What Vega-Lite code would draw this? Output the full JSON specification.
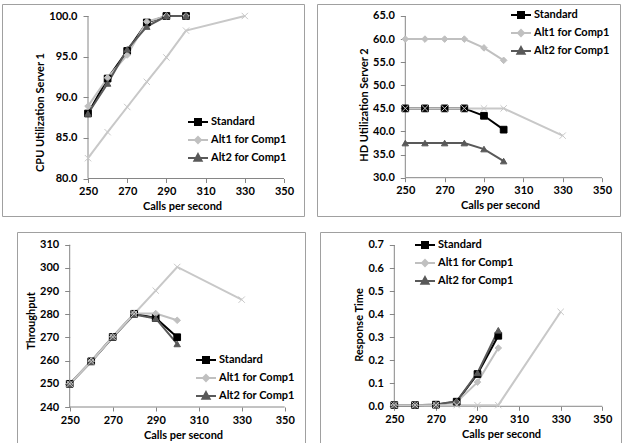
{
  "$schema": "https://vega.github.io/schema/vega-lite/v6.json",
  "background": "white",
  "padding": {"left": 1, "top": 3, "right": 0, "bottom": 0},
  "config": {
    "view": {"stroke": "#a0a0a0", "strokeWidth": 1},
    "font": "Lato",
    "axis": {"grid": false, "domain": false, "ticks": true, "tickColor": "#868686", "tickWidth": 1, "labelFont": "Lato", "labelFontWeight": "bold", "labelFontSize": 11, "labelColor": "#000000", "titleFont": "Lato", "titleFontWeight": "bold", "titleFontSize": 11, "titleColor": "#000000", "labelOverlap": false, "labelFlush": false},
    "legend": {"labelFont": "Lato", "labelFontWeight": "bold", "labelFontSize": 11, "labelColor": "#000000"}
  },
  "datasets": {
    "cpu": [
      {"calls": 250, "value": 88.0, "series": "Standard"}, {"calls": 260, "value": 92.3, "series": "Standard"}, {"calls": 270, "value": 95.7, "series": "Standard"}, {"calls": 280, "value": 99.2, "series": "Standard"}, {"calls": 290, "value": 100, "series": "Standard"}, {"calls": 300, "value": 100, "series": "Standard"},
      {"calls": 250, "value": 88.9, "series": "Alt1 for Comp1"}, {"calls": 260, "value": 92.4, "series": "Alt1 for Comp1"}, {"calls": 270, "value": 95.2, "series": "Alt1 for Comp1"}, {"calls": 280, "value": 99.3, "series": "Alt1 for Comp1"}, {"calls": 290, "value": 100, "series": "Alt1 for Comp1"}, {"calls": 300, "value": 100, "series": "Alt1 for Comp1"},
      {"calls": 250, "value": 88.0, "series": "Alt2 for Comp1"}, {"calls": 260, "value": 91.7, "series": "Alt2 for Comp1"}, {"calls": 270, "value": 95.9, "series": "Alt2 for Comp1"}, {"calls": 280, "value": 98.7, "series": "Alt2 for Comp1"}, {"calls": 290, "value": 100, "series": "Alt2 for Comp1"}, {"calls": 300, "value": 100, "series": "Alt2 for Comp1"},
      {"calls": 250, "value": 82.5, "series": "Alt3 for Comp1"}, {"calls": 260, "value": 85.7, "series": "Alt3 for Comp1"}, {"calls": 270, "value": 88.8, "series": "Alt3 for Comp1"}, {"calls": 280, "value": 91.9, "series": "Alt3 for Comp1"}, {"calls": 290, "value": 94.9, "series": "Alt3 for Comp1"}, {"calls": 300, "value": 98.2, "series": "Alt3 for Comp1"}, {"calls": 330, "value": 100, "series": "Alt3 for Comp1"}
    ],
    "hd": [
      {"calls": 250, "value": 45, "series": "Standard"}, {"calls": 260, "value": 45, "series": "Standard"}, {"calls": 270, "value": 45, "series": "Standard"}, {"calls": 280, "value": 45, "series": "Standard"}, {"calls": 290, "value": 43.4, "series": "Standard"}, {"calls": 300, "value": 40.4, "series": "Standard"},
      {"calls": 250, "value": 60, "series": "Alt1 for Comp1"}, {"calls": 260, "value": 60, "series": "Alt1 for Comp1"}, {"calls": 270, "value": 60, "series": "Alt1 for Comp1"}, {"calls": 280, "value": 60, "series": "Alt1 for Comp1"}, {"calls": 290, "value": 58.1, "series": "Alt1 for Comp1"}, {"calls": 300, "value": 55.4, "series": "Alt1 for Comp1"},
      {"calls": 250, "value": 37.5, "series": "Alt2 for Comp1"}, {"calls": 260, "value": 37.5, "series": "Alt2 for Comp1"}, {"calls": 270, "value": 37.5, "series": "Alt2 for Comp1"}, {"calls": 280, "value": 37.5, "series": "Alt2 for Comp1"}, {"calls": 290, "value": 36.2, "series": "Alt2 for Comp1"}, {"calls": 300, "value": 33.6, "series": "Alt2 for Comp1"},
      {"calls": 250, "value": 45, "series": "Alt3 for Comp1"}, {"calls": 260, "value": 45, "series": "Alt3 for Comp1"}, {"calls": 270, "value": 45, "series": "Alt3 for Comp1"}, {"calls": 280, "value": 45, "series": "Alt3 for Comp1"}, {"calls": 290, "value": 45, "series": "Alt3 for Comp1"}, {"calls": 300, "value": 45, "series": "Alt3 for Comp1"}, {"calls": 330, "value": 39.1, "series": "Alt3 for Comp1"}
    ],
    "tp": [
      {"calls": 250, "value": 250, "series": "Standard"}, {"calls": 260, "value": 259.7, "series": "Standard"}, {"calls": 270, "value": 270.2, "series": "Standard"}, {"calls": 280, "value": 280.2, "series": "Standard"}, {"calls": 290, "value": 278.4, "series": "Standard"}, {"calls": 300, "value": 270.1, "series": "Standard"},
      {"calls": 250, "value": 250, "series": "Alt1 for Comp1"}, {"calls": 260, "value": 259.8, "series": "Alt1 for Comp1"}, {"calls": 270, "value": 270.3, "series": "Alt1 for Comp1"}, {"calls": 280, "value": 280.3, "series": "Alt1 for Comp1"}, {"calls": 290, "value": 280.3, "series": "Alt1 for Comp1"}, {"calls": 300, "value": 277.4, "series": "Alt1 for Comp1"},
      {"calls": 250, "value": 250, "series": "Alt2 for Comp1"}, {"calls": 260, "value": 259.5, "series": "Alt2 for Comp1"}, {"calls": 270, "value": 270.1, "series": "Alt2 for Comp1"}, {"calls": 280, "value": 279.9, "series": "Alt2 for Comp1"}, {"calls": 290, "value": 278.2, "series": "Alt2 for Comp1"}, {"calls": 300, "value": 267.2, "series": "Alt2 for Comp1"},
      {"calls": 250, "value": 250, "series": "Alt3 for Comp1"}, {"calls": 260, "value": 259.6, "series": "Alt3 for Comp1"}, {"calls": 270, "value": 270.2, "series": "Alt3 for Comp1"}, {"calls": 280, "value": 280.2, "series": "Alt3 for Comp1"}, {"calls": 290, "value": 290.2, "series": "Alt3 for Comp1"}, {"calls": 300, "value": 300.4, "series": "Alt3 for Comp1"}, {"calls": 330, "value": 286.3, "series": "Alt3 for Comp1"}
    ],
    "rt": [
      {"calls": 250, "value": 0.005, "series": "Standard"}, {"calls": 260, "value": 0.005, "series": "Standard"}, {"calls": 270, "value": 0.007, "series": "Standard"}, {"calls": 280, "value": 0.02, "series": "Standard"}, {"calls": 290, "value": 0.14, "series": "Standard"}, {"calls": 300, "value": 0.306, "series": "Standard"},
      {"calls": 250, "value": 0.005, "series": "Alt1 for Comp1"}, {"calls": 260, "value": 0.005, "series": "Alt1 for Comp1"}, {"calls": 270, "value": 0.007, "series": "Alt1 for Comp1"}, {"calls": 280, "value": 0.018, "series": "Alt1 for Comp1"}, {"calls": 290, "value": 0.105, "series": "Alt1 for Comp1"}, {"calls": 300, "value": 0.253, "series": "Alt1 for Comp1"},
      {"calls": 250, "value": 0.005, "series": "Alt2 for Comp1"}, {"calls": 260, "value": 0.005, "series": "Alt2 for Comp1"}, {"calls": 270, "value": 0.008, "series": "Alt2 for Comp1"}, {"calls": 280, "value": 0.022, "series": "Alt2 for Comp1"}, {"calls": 290, "value": 0.145, "series": "Alt2 for Comp1"}, {"calls": 300, "value": 0.33, "series": "Alt2 for Comp1"},
      {"calls": 250, "value": 0.005, "series": "Alt3 for Comp1"}, {"calls": 260, "value": 0.005, "series": "Alt3 for Comp1"}, {"calls": 270, "value": 0.005, "series": "Alt3 for Comp1"}, {"calls": 280, "value": 0.005, "series": "Alt3 for Comp1"}, {"calls": 290, "value": 0.005, "series": "Alt3 for Comp1"}, {"calls": 300, "value": 0.005, "series": "Alt3 for Comp1"}, {"calls": 330, "value": 0.41, "series": "Alt3 for Comp1"}
    ]
  },
  "vconcat": [
    {
      "hconcat": [
        {
          "width": 302, "height": 212,
          "layer": [
            {"data": {"values": [{}]}, "mark": {"type": "rule", "color": "#868686", "strokeWidth": 1},
             "encoding": {"x": {"datum": 250, "type": "quantitative", "title": "Calls per second", "scale": {"domain": [206.12, 360.2], "nice": false, "zero": false}, "axis": {"values": [250, 270, 290, 310, 330, 350], "labelOverlap": false, "offset": -37.5, "titleX": 180, "tickSize": 4, "labelPadding": 3, "titlePadding": 4}}, "x2": {"datum": 350}, "y": {"datum": 80, "type": "quantitative", "title": "CPU Utilization Server 1", "scale": {"domain": [75.385, 101.477], "nice": false, "zero": false}, "axis": {"values": [80, 85, 90, 95, 100], "labelOverlap": false, "format": ".1f", "offset": -86, "titleY": 108, "tickSize": 5, "labelPadding": 6, "titlePadding": 3}}}},
            {"data": {"values": [{}]}, "mark": {"type": "rule", "color": "#868686", "strokeWidth": 1},
             "encoding": {"x": {"datum": 250, "type": "quantitative", "title": "Calls per second", "scale": {"domain": [206.12, 360.2], "nice": false, "zero": false}, "axis": {"values": [250, 270, 290, 310, 330, 350], "labelOverlap": false, "offset": -37.5, "titleX": 180, "tickSize": 4, "labelPadding": 3, "titlePadding": 4}}, "y": {"datum": 80, "type": "quantitative", "title": "CPU Utilization Server 1", "scale": {"domain": [75.385, 101.477], "nice": false, "zero": false}, "axis": {"values": [80, 85, 90, 95, 100], "labelOverlap": false, "format": ".1f", "offset": -86, "titleY": 108, "tickSize": 5, "labelPadding": 6, "titlePadding": 3}}, "y2": {"datum": 100}}},
            {"data": {"name": "cpu"}, "mark": {"type": "line", "strokeWidth": 2},
             "encoding": {
               "x": {"field": "calls", "type": "quantitative", "scale": {"domain": [206.12, 360.2], "nice": false, "zero": false}, "title": "Calls per second", "axis": {"values": [250, 270, 290, 310, 330, 350], "labelOverlap": false, "offset": -37.5, "titleX": 180, "tickSize": 4, "labelPadding": 3, "titlePadding": 4}},
               "y": {"field": "value", "type": "quantitative", "scale": {"domain": [75.385, 101.477], "nice": false, "zero": false}, "title": "CPU Utilization Server 1", "axis": {"values": [80, 85, 90, 95, 100], "labelOverlap": false, "format": ".1f", "offset": -86, "titleY": 108, "tickSize": 5, "labelPadding": 6, "titlePadding": 3}},
               "color": {"field": "series", "type": "nominal", "scale": {"domain": ["Standard", "Alt1 for Comp1", "Alt2 for Comp1", "Alt3 for Comp1"], "range": ["#000000", "#c0c0c0", "#595959", "#c8c8c8"]}, "legend": null}
             }},
            {"data": {"name": "cpu"}, "mark": {"type": "point", "filled": true, "opacity": 1, "strokeWidth": 1},
             "encoding": {
               "x": {"field": "calls", "type": "quantitative", "title": "Calls per second", "scale": {"domain": [206.12, 360.2], "nice": false, "zero": false}, "axis": {"values": [250, 270, 290, 310, 330, 350], "labelOverlap": false, "offset": -37.5, "titleX": 180, "tickSize": 4, "labelPadding": 3, "titlePadding": 4}},
               "y": {"field": "value", "type": "quantitative", "title": "CPU Utilization Server 1", "scale": {"domain": [75.385, 101.477], "nice": false, "zero": false}, "axis": {"values": [80, 85, 90, 95, 100], "labelOverlap": false, "format": ".1f", "offset": -86, "titleY": 108, "tickSize": 5, "labelPadding": 6, "titlePadding": 3}},
               "fill": {"field": "series", "type": "nominal", "scale": {"domain": ["Standard", "Alt1 for Comp1", "Alt2 for Comp1", "Alt3 for Comp1"], "range": ["#000000", "#c0c0c0", "#595959", "#c8c8c8"]}, "legend": null},
               "stroke": {"field": "series", "type": "nominal", "scale": {"domain": ["Standard", "Alt1 for Comp1", "Alt2 for Comp1", "Alt3 for Comp1"], "range": ["#000000", "#c0c0c0", "#595959", "#c8c8c8"]}, "legend": null},
               "shape": {"field": "series", "type": "nominal", "scale": {"domain": ["Standard", "Alt1 for Comp1", "Alt2 for Comp1", "Alt3 for Comp1"], "range": ["square", "diamond", "triangle-up", "M-1,-1L1,1M-1,1L1,-1"]}, "legend": null},
               "size": {"field": "series", "type": "ordinal", "scale": {"domain": ["Standard", "Alt1 for Comp1", "Alt2 for Comp1", "Alt3 for Comp1"], "range": [45, 40, 55, 64]}, "legend": null}
             }},
            {"data": {"name": "cpu"}, "transform": [{"filter": "datum.calls > 1000"}], "mark": {"type": "point", "filled": true, "opacity": 1},
             "encoding": {
               "x": {"field": "calls", "type": "quantitative", "title": "Calls per second", "scale": {"domain": [206.12, 360.2], "nice": false, "zero": false}, "axis": {"values": [250, 270, 290, 310, 330, 350], "labelOverlap": false, "offset": -37.5, "titleX": 180, "tickSize": 4, "labelPadding": 3, "titlePadding": 4}},
               "y": {"field": "value", "type": "quantitative", "title": "CPU Utilization Server 1", "scale": {"domain": [75.385, 101.477], "nice": false, "zero": false}, "axis": {"values": [80, 85, 90, 95, 100], "labelOverlap": false, "format": ".1f", "offset": -86, "titleY": 108, "tickSize": 5, "labelPadding": 6, "titlePadding": 3}},
               "shape": {"field": "series", "type": "nominal", "scale": {"domain": ["Standard", "Alt1 for Comp1", "Alt2 for Comp1"], "range": ["M-1,0H1M-0.3,-0.3H0.3V0.3H-0.3Z", "M-1,0H1M0,-0.3L0.3,0L0,0.3L-0.3,0Z", "M-1,0H1M0,-0.38L0.36,0.28H-0.36Z"]}, "legend": {"orient": "none", "legendX": 185, "legendY": 107, "title": null, "symbolSize": 400, "symbolStrokeWidth": 2, "labelOffset": 2, "rowPadding": 0, "padding": 0}},
               "fill": {"field": "series", "type": "nominal", "scale": {"domain": ["Standard", "Alt1 for Comp1", "Alt2 for Comp1"], "range": ["#000000", "#c0c0c0", "#595959"]}, "legend": {"orient": "none", "legendX": 185, "legendY": 107, "title": null, "symbolSize": 400, "symbolStrokeWidth": 2, "labelOffset": 2, "rowPadding": 0, "padding": 0}},
               "stroke": {"field": "series", "type": "nominal", "scale": {"domain": ["Standard", "Alt1 for Comp1", "Alt2 for Comp1"], "range": ["#000000", "#c0c0c0", "#595959"]}, "legend": {"orient": "none", "legendX": 185, "legendY": 107, "title": null, "symbolSize": 400, "symbolStrokeWidth": 2, "labelOffset": 2, "rowPadding": 0, "padding": 0}}
             }}
          ],
          "resolve": {"scale": {"fill": "independent", "stroke": "independent", "shape": "independent"}}
        },
        {
          "width": 303, "height": 212,
          "layer": [
            {"data": {"values": [{}]}, "mark": {"type": "rule", "color": "#868686", "strokeWidth": 1},
             "encoding": {"x": {"datum": 250, "type": "quantitative", "title": "Calls per second", "scale": {"domain": [205.11, 359.15], "nice": false, "zero": false}, "axis": {"values": [250, 270, 290, 310, 330, 350], "labelOverlap": false, "offset": -38.3, "titleX": 183, "tickSize": 4, "labelPadding": 3, "titlePadding": 4}}, "x2": {"datum": 350}, "y": {"datum": 30, "type": "quantitative", "title": "HD Utilization Server 2", "scale": {"domain": [21.71, 67.597], "nice": false, "zero": false}, "axis": {"values": [30, 35, 40, 45, 50, 55, 60, 65], "labelOverlap": false, "format": ".1f", "offset": -88.3, "titleY": 100.5, "tickSize": 5, "labelPadding": 6, "titlePadding": 3}}}},
            {"data": {"values": [{}]}, "mark": {"type": "rule", "color": "#868686", "strokeWidth": 1},
             "encoding": {"x": {"datum": 250, "type": "quantitative", "title": "Calls per second", "scale": {"domain": [205.11, 359.15], "nice": false, "zero": false}, "axis": {"values": [250, 270, 290, 310, 330, 350], "labelOverlap": false, "offset": -38.3, "titleX": 183, "tickSize": 4, "labelPadding": 3, "titlePadding": 4}}, "y": {"datum": 30, "type": "quantitative", "title": "HD Utilization Server 2", "scale": {"domain": [21.71, 67.597], "nice": false, "zero": false}, "axis": {"values": [30, 35, 40, 45, 50, 55, 60, 65], "labelOverlap": false, "format": ".1f", "offset": -88.3, "titleY": 100.5, "tickSize": 5, "labelPadding": 6, "titlePadding": 3}}, "y2": {"datum": 65}}},
            {"data": {"name": "hd"}, "mark": {"type": "line", "strokeWidth": 2},
             "encoding": {
               "x": {"field": "calls", "type": "quantitative", "scale": {"domain": [205.11, 359.15], "nice": false, "zero": false}, "title": "Calls per second", "axis": {"values": [250, 270, 290, 310, 330, 350], "labelOverlap": false, "offset": -38.3, "titleX": 183, "tickSize": 4, "labelPadding": 3, "titlePadding": 4}},
               "y": {"field": "value", "type": "quantitative", "scale": {"domain": [21.71, 67.597], "nice": false, "zero": false}, "title": "HD Utilization Server 2", "axis": {"values": [30, 35, 40, 45, 50, 55, 60, 65], "labelOverlap": false, "format": ".1f", "offset": -88.3, "titleY": 100.5, "tickSize": 5, "labelPadding": 6, "titlePadding": 3}},
               "color": {"field": "series", "type": "nominal", "scale": {"domain": ["Standard", "Alt1 for Comp1", "Alt2 for Comp1", "Alt3 for Comp1"], "range": ["#000000", "#c0c0c0", "#595959", "#c8c8c8"]}, "legend": null}
             }},
            {"data": {"name": "hd"}, "mark": {"type": "point", "filled": true, "opacity": 1, "strokeWidth": 1},
             "encoding": {
               "x": {"field": "calls", "type": "quantitative", "title": "Calls per second", "scale": {"domain": [205.11, 359.15], "nice": false, "zero": false}, "axis": {"values": [250, 270, 290, 310, 330, 350], "labelOverlap": false, "offset": -38.3, "titleX": 183, "tickSize": 4, "labelPadding": 3, "titlePadding": 4}},
               "y": {"field": "value", "type": "quantitative", "title": "HD Utilization Server 2", "scale": {"domain": [21.71, 67.597], "nice": false, "zero": false}, "axis": {"values": [30, 35, 40, 45, 50, 55, 60, 65], "labelOverlap": false, "format": ".1f", "offset": -88.3, "titleY": 100.5, "tickSize": 5, "labelPadding": 6, "titlePadding": 3}},
               "fill": {"field": "series", "type": "nominal", "scale": {"domain": ["Standard", "Alt1 for Comp1", "Alt2 for Comp1", "Alt3 for Comp1"], "range": ["#000000", "#c0c0c0", "#595959", "#c8c8c8"]}, "legend": null},
               "stroke": {"field": "series", "type": "nominal", "scale": {"domain": ["Standard", "Alt1 for Comp1", "Alt2 for Comp1", "Alt3 for Comp1"], "range": ["#000000", "#c0c0c0", "#595959", "#c8c8c8"]}, "legend": null},
               "shape": {"field": "series", "type": "nominal", "scale": {"domain": ["Standard", "Alt1 for Comp1", "Alt2 for Comp1", "Alt3 for Comp1"], "range": ["square", "diamond", "triangle-up", "M-1,-1L1,1M-1,1L1,-1"]}, "legend": null},
               "size": {"field": "series", "type": "ordinal", "scale": {"domain": ["Standard", "Alt1 for Comp1", "Alt2 for Comp1", "Alt3 for Comp1"], "range": [45, 40, 55, 64]}, "legend": null}
             }},
            {"data": {"name": "hd"}, "transform": [{"filter": "datum.calls > 1000"}], "mark": {"type": "point", "filled": true, "opacity": 1},
             "encoding": {
               "x": {"field": "calls", "type": "quantitative", "title": "Calls per second", "scale": {"domain": [205.11, 359.15], "nice": false, "zero": false}, "axis": {"values": [250, 270, 290, 310, 330, 350], "labelOverlap": false, "offset": -38.3, "titleX": 183, "tickSize": 4, "labelPadding": 3, "titlePadding": 4}},
               "y": {"field": "value", "type": "quantitative", "title": "HD Utilization Server 2", "scale": {"domain": [21.71, 67.597], "nice": false, "zero": false}, "axis": {"values": [30, 35, 40, 45, 50, 55, 60, 65], "labelOverlap": false, "format": ".1f", "offset": -88.3, "titleY": 100.5, "tickSize": 5, "labelPadding": 6, "titlePadding": 3}},
               "shape": {"field": "series", "type": "nominal", "scale": {"domain": ["Standard", "Alt1 for Comp1", "Alt2 for Comp1"], "range": ["M-1,0H1M-0.3,-0.3H0.3V0.3H-0.3Z", "M-1,0H1M0,-0.3L0.3,0L0,0.3L-0.3,0Z", "M-1,0H1M0,-0.38L0.36,0.28H-0.36Z"]}, "legend": {"orient": "none", "legendX": 193, "legendY": 0, "title": null, "symbolSize": 400, "symbolStrokeWidth": 2, "labelOffset": 2, "rowPadding": 0, "padding": 0}},
               "fill": {"field": "series", "type": "nominal", "scale": {"domain": ["Standard", "Alt1 for Comp1", "Alt2 for Comp1"], "range": ["#000000", "#c0c0c0", "#595959"]}, "legend": {"orient": "none", "legendX": 193, "legendY": 0, "title": null, "symbolSize": 400, "symbolStrokeWidth": 2, "labelOffset": 2, "rowPadding": 0, "padding": 0}},
               "stroke": {"field": "series", "type": "nominal", "scale": {"domain": ["Standard", "Alt1 for Comp1", "Alt2 for Comp1"], "range": ["#000000", "#c0c0c0", "#595959"]}, "legend": {"orient": "none", "legendX": 193, "legendY": 0, "title": null, "symbolSize": 400, "symbolStrokeWidth": 2, "labelOffset": 2, "rowPadding": 0, "padding": 0}}
             }}
          ],
          "resolve": {"scale": {"fill": "independent", "stroke": "independent", "shape": "independent"}}
        }
      ],
      "spacing": 11
    },
    {
      "hconcat": [
        {"width": 1, "height": 1, "data": {"values": []}, "mark": "point", "view": {"stroke": null}},
        {
          "width": 288, "height": 211,
          "layer": [
            {"data": {"values": [{}]}, "mark": {"type": "rule", "color": "#868686", "strokeWidth": 1},
             "encoding": {"x": {"datum": 250, "type": "quantitative", "title": "Calls per second", "scale": {"domain": [225.49, 359.44], "nice": false, "zero": false}, "axis": {"values": [250, 270, 290, 310, 330, 350], "labelOverlap": false, "offset": -36, "titleX": 166, "tickSize": 4, "labelPadding": 3, "titlePadding": 4}}, "x2": {"datum": 350}, "y": {"datum": 240, "type": "quantitative", "title": "Throughput", "scale": {"domain": [224.48, 315.48], "nice": false, "zero": false}, "axis": {"values": [240, 250, 260, 270, 280, 290, 300, 310], "labelOverlap": false, "format": "d", "offset": -52.7, "titleY": 88.5, "tickSize": 5, "labelPadding": 6, "titlePadding": 3}}}},
            {"data": {"values": [{}]}, "mark": {"type": "rule", "color": "#868686", "strokeWidth": 1},
             "encoding": {"x": {"datum": 250, "type": "quantitative", "title": "Calls per second", "scale": {"domain": [225.49, 359.44], "nice": false, "zero": false}, "axis": {"values": [250, 270, 290, 310, 330, 350], "labelOverlap": false, "offset": -36, "titleX": 166, "tickSize": 4, "labelPadding": 3, "titlePadding": 4}}, "y": {"datum": 240, "type": "quantitative", "title": "Throughput", "scale": {"domain": [224.48, 315.48], "nice": false, "zero": false}, "axis": {"values": [240, 250, 260, 270, 280, 290, 300, 310], "labelOverlap": false, "format": "d", "offset": -52.7, "titleY": 88.5, "tickSize": 5, "labelPadding": 6, "titlePadding": 3}}, "y2": {"datum": 310}}},
            {"data": {"name": "tp"}, "mark": {"type": "line", "strokeWidth": 2},
             "encoding": {
               "x": {"field": "calls", "type": "quantitative", "scale": {"domain": [225.49, 359.44], "nice": false, "zero": false}, "title": "Calls per second", "axis": {"values": [250, 270, 290, 310, 330, 350], "labelOverlap": false, "offset": -36, "titleX": 166, "tickSize": 4, "labelPadding": 3, "titlePadding": 4}},
               "y": {"field": "value", "type": "quantitative", "scale": {"domain": [224.48, 315.48], "nice": false, "zero": false}, "title": "Throughput", "axis": {"values": [240, 250, 260, 270, 280, 290, 300, 310], "labelOverlap": false, "format": "d", "offset": -52.7, "titleY": 88.5, "tickSize": 5, "labelPadding": 6, "titlePadding": 3}},
               "color": {"field": "series", "type": "nominal", "scale": {"domain": ["Standard", "Alt1 for Comp1", "Alt2 for Comp1", "Alt3 for Comp1"], "range": ["#000000", "#c0c0c0", "#595959", "#c8c8c8"]}, "legend": null}
             }},
            {"data": {"name": "tp"}, "mark": {"type": "point", "filled": true, "opacity": 1, "strokeWidth": 1},
             "encoding": {
               "x": {"field": "calls", "type": "quantitative", "title": "Calls per second", "scale": {"domain": [225.49, 359.44], "nice": false, "zero": false}, "axis": {"values": [250, 270, 290, 310, 330, 350], "labelOverlap": false, "offset": -36, "titleX": 166, "tickSize": 4, "labelPadding": 3, "titlePadding": 4}},
               "y": {"field": "value", "type": "quantitative", "title": "Throughput", "scale": {"domain": [224.48, 315.48], "nice": false, "zero": false}, "axis": {"values": [240, 250, 260, 270, 280, 290, 300, 310], "labelOverlap": false, "format": "d", "offset": -52.7, "titleY": 88.5, "tickSize": 5, "labelPadding": 6, "titlePadding": 3}},
               "fill": {"field": "series", "type": "nominal", "scale": {"domain": ["Standard", "Alt1 for Comp1", "Alt2 for Comp1", "Alt3 for Comp1"], "range": ["#000000", "#c0c0c0", "#595959", "#c8c8c8"]}, "legend": null},
               "stroke": {"field": "series", "type": "nominal", "scale": {"domain": ["Standard", "Alt1 for Comp1", "Alt2 for Comp1", "Alt3 for Comp1"], "range": ["#000000", "#c0c0c0", "#595959", "#c8c8c8"]}, "legend": null},
               "shape": {"field": "series", "type": "nominal", "scale": {"domain": ["Standard", "Alt1 for Comp1", "Alt2 for Comp1", "Alt3 for Comp1"], "range": ["square", "diamond", "triangle-up", "M-1,-1L1,1M-1,1L1,-1"]}, "legend": null},
               "size": {"field": "series", "type": "ordinal", "scale": {"domain": ["Standard", "Alt1 for Comp1", "Alt2 for Comp1", "Alt3 for Comp1"], "range": [45, 40, 55, 64]}, "legend": null}
             }},
            {"data": {"name": "tp"}, "transform": [{"filter": "datum.calls > 1000"}], "mark": {"type": "point", "filled": true, "opacity": 1},
             "encoding": {
               "x": {"field": "calls", "type": "quantitative", "title": "Calls per second", "scale": {"domain": [225.49, 359.44], "nice": false, "zero": false}, "axis": {"values": [250, 270, 290, 310, 330, 350], "labelOverlap": false, "offset": -36, "titleX": 166, "tickSize": 4, "labelPadding": 3, "titlePadding": 4}},
               "y": {"field": "value", "type": "quantitative", "title": "Throughput", "scale": {"domain": [224.48, 315.48], "nice": false, "zero": false}, "axis": {"values": [240, 250, 260, 270, 280, 290, 300, 310], "labelOverlap": false, "format": "d", "offset": -52.7, "titleY": 88.5, "tickSize": 5, "labelPadding": 6, "titlePadding": 3}},
               "shape": {"field": "series", "type": "nominal", "scale": {"domain": ["Standard", "Alt1 for Comp1", "Alt2 for Comp1"], "range": ["M-1,0H1M-0.3,-0.3H0.3V0.3H-0.3Z", "M-1,0H1M0,-0.3L0.3,0L0,0.3L-0.3,0Z", "M-1,0H1M0,-0.38L0.36,0.28H-0.36Z"]}, "legend": {"orient": "none", "legendX": 178, "legendY": 117, "title": null, "symbolSize": 400, "symbolStrokeWidth": 2, "labelOffset": 2, "rowPadding": 0, "padding": 0}},
               "fill": {"field": "series", "type": "nominal", "scale": {"domain": ["Standard", "Alt1 for Comp1", "Alt2 for Comp1"], "range": ["#000000", "#c0c0c0", "#595959"]}, "legend": {"orient": "none", "legendX": 178, "legendY": 117, "title": null, "symbolSize": 400, "symbolStrokeWidth": 2, "labelOffset": 2, "rowPadding": 0, "padding": 0}},
               "stroke": {"field": "series", "type": "nominal", "scale": {"domain": ["Standard", "Alt1 for Comp1", "Alt2 for Comp1"], "range": ["#000000", "#c0c0c0", "#595959"]}, "legend": {"orient": "none", "legendX": 178, "legendY": 117, "title": null, "symbolSize": 400, "symbolStrokeWidth": 2, "labelOffset": 2, "rowPadding": 0, "padding": 0}}
             }}
          ],
          "resolve": {"scale": {"fill": "independent", "stroke": "independent", "shape": "independent"}}
        },
        {
          "width": 301, "height": 211,
          "layer": [
            {"data": {"values": [{}]}, "mark": {"type": "rule", "color": "#868686", "strokeWidth": 1},
             "encoding": {"x": {"datum": 250, "type": "quantitative", "title": "Calls per second", "scale": {"domain": [214.28, 358.99], "nice": false, "zero": false}, "axis": {"values": [250, 270, 290, 310, 330, 350], "labelOverlap": false, "offset": -36.7, "titleX": 181, "tickSize": 4, "labelPadding": 3, "titlePadding": 4}}, "x2": {"datum": 350}, "y": {"datum": 0, "type": "quantitative", "title": "Response Time", "scale": {"domain": [-0.1593, 0.7564], "nice": false, "zero": false}, "axis": {"values": [0, 0.1, 0.2, 0.3, 0.4, 0.5, 0.6, 0.7], "labelOverlap": false, "format": ".1f", "offset": -74.3, "titleY": 92.5, "tickSize": 5, "labelPadding": 6, "titlePadding": 3}}}},
            {"data": {"values": [{}]}, "mark": {"type": "rule", "color": "#868686", "strokeWidth": 1},
             "encoding": {"x": {"datum": 250, "type": "quantitative", "title": "Calls per second", "scale": {"domain": [214.28, 358.99], "nice": false, "zero": false}, "axis": {"values": [250, 270, 290, 310, 330, 350], "labelOverlap": false, "offset": -36.7, "titleX": 181, "tickSize": 4, "labelPadding": 3, "titlePadding": 4}}, "y": {"datum": 0, "type": "quantitative", "title": "Response Time", "scale": {"domain": [-0.1593, 0.7564], "nice": false, "zero": false}, "axis": {"values": [0, 0.1, 0.2, 0.3, 0.4, 0.5, 0.6, 0.7], "labelOverlap": false, "format": ".1f", "offset": -74.3, "titleY": 92.5, "tickSize": 5, "labelPadding": 6, "titlePadding": 3}}, "y2": {"datum": 0.7}}},
            {"data": {"name": "rt"}, "mark": {"type": "line", "strokeWidth": 2},
             "encoding": {
               "x": {"field": "calls", "type": "quantitative", "scale": {"domain": [214.28, 358.99], "nice": false, "zero": false}, "title": "Calls per second", "axis": {"values": [250, 270, 290, 310, 330, 350], "labelOverlap": false, "offset": -36.7, "titleX": 181, "tickSize": 4, "labelPadding": 3, "titlePadding": 4}},
               "y": {"field": "value", "type": "quantitative", "scale": {"domain": [-0.1593, 0.7564], "nice": false, "zero": false}, "title": "Response Time", "axis": {"values": [0, 0.1, 0.2, 0.3, 0.4, 0.5, 0.6, 0.7], "labelOverlap": false, "format": ".1f", "offset": -74.3, "titleY": 92.5, "tickSize": 5, "labelPadding": 6, "titlePadding": 3}},
               "color": {"field": "series", "type": "nominal", "scale": {"domain": ["Standard", "Alt1 for Comp1", "Alt2 for Comp1", "Alt3 for Comp1"], "range": ["#000000", "#c0c0c0", "#595959", "#c8c8c8"]}, "legend": null}
             }},
            {"data": {"name": "rt"}, "mark": {"type": "point", "filled": true, "opacity": 1, "strokeWidth": 1},
             "encoding": {
               "x": {"field": "calls", "type": "quantitative", "title": "Calls per second", "scale": {"domain": [214.28, 358.99], "nice": false, "zero": false}, "axis": {"values": [250, 270, 290, 310, 330, 350], "labelOverlap": false, "offset": -36.7, "titleX": 181, "tickSize": 4, "labelPadding": 3, "titlePadding": 4}},
               "y": {"field": "value", "type": "quantitative", "title": "Response Time", "scale": {"domain": [-0.1593, 0.7564], "nice": false, "zero": false}, "axis": {"values": [0, 0.1, 0.2, 0.3, 0.4, 0.5, 0.6, 0.7], "labelOverlap": false, "format": ".1f", "offset": -74.3, "titleY": 92.5, "tickSize": 5, "labelPadding": 6, "titlePadding": 3}},
               "fill": {"field": "series", "type": "nominal", "scale": {"domain": ["Standard", "Alt1 for Comp1", "Alt2 for Comp1", "Alt3 for Comp1"], "range": ["#000000", "#c0c0c0", "#595959", "#c8c8c8"]}, "legend": null},
               "stroke": {"field": "series", "type": "nominal", "scale": {"domain": ["Standard", "Alt1 for Comp1", "Alt2 for Comp1", "Alt3 for Comp1"], "range": ["#000000", "#c0c0c0", "#595959", "#c8c8c8"]}, "legend": null},
               "shape": {"field": "series", "type": "nominal", "scale": {"domain": ["Standard", "Alt1 for Comp1", "Alt2 for Comp1", "Alt3 for Comp1"], "range": ["square", "diamond", "triangle-up", "M-1,-1L1,1M-1,1L1,-1"]}, "legend": null},
               "size": {"field": "series", "type": "ordinal", "scale": {"domain": ["Standard", "Alt1 for Comp1", "Alt2 for Comp1", "Alt3 for Comp1"], "range": [45, 40, 55, 64]}, "legend": null}
             }},
            {"data": {"name": "rt"}, "transform": [{"filter": "datum.calls > 1000"}], "mark": {"type": "point", "filled": true, "opacity": 1},
             "encoding": {
               "x": {"field": "calls", "type": "quantitative", "title": "Calls per second", "scale": {"domain": [214.28, 358.99], "nice": false, "zero": false}, "axis": {"values": [250, 270, 290, 310, 330, 350], "labelOverlap": false, "offset": -36.7, "titleX": 181, "tickSize": 4, "labelPadding": 3, "titlePadding": 4}},
               "y": {"field": "value", "type": "quantitative", "title": "Response Time", "scale": {"domain": [-0.1593, 0.7564], "nice": false, "zero": false}, "axis": {"values": [0, 0.1, 0.2, 0.3, 0.4, 0.5, 0.6, 0.7], "labelOverlap": false, "format": ".1f", "offset": -74.3, "titleY": 92.5, "tickSize": 5, "labelPadding": 6, "titlePadding": 3}},
               "shape": {"field": "series", "type": "nominal", "scale": {"domain": ["Standard", "Alt1 for Comp1", "Alt2 for Comp1"], "range": ["M-1,0H1M-0.3,-0.3H0.3V0.3H-0.3Z", "M-1,0H1M0,-0.3L0.3,0L0,0.3L-0.3,0Z", "M-1,0H1M0,-0.38L0.36,0.28H-0.36Z"]}, "legend": {"orient": "none", "legendX": 94, "legendY": 2, "title": null, "symbolSize": 400, "symbolStrokeWidth": 2, "labelOffset": 2, "rowPadding": 0, "padding": 0}},
               "fill": {"field": "series", "type": "nominal", "scale": {"domain": ["Standard", "Alt1 for Comp1", "Alt2 for Comp1"], "range": ["#000000", "#c0c0c0", "#595959"]}, "legend": {"orient": "none", "legendX": 94, "legendY": 2, "title": null, "symbolSize": 400, "symbolStrokeWidth": 2, "labelOffset": 2, "rowPadding": 0, "padding": 0}},
               "stroke": {"field": "series", "type": "nominal", "scale": {"domain": ["Standard", "Alt1 for Comp1", "Alt2 for Comp1"], "range": ["#000000", "#c0c0c0", "#595959"]}, "legend": {"orient": "none", "legendX": 94, "legendY": 2, "title": null, "symbolSize": 400, "symbolStrokeWidth": 2, "labelOffset": 2, "rowPadding": 0, "padding": 0}}
             }}
          ],
          "resolve": {"scale": {"fill": "independent", "stroke": "independent", "shape": "independent"}}
        }
      ],
      "spacing": 13
    }
  ],
  "spacing": 14
}
